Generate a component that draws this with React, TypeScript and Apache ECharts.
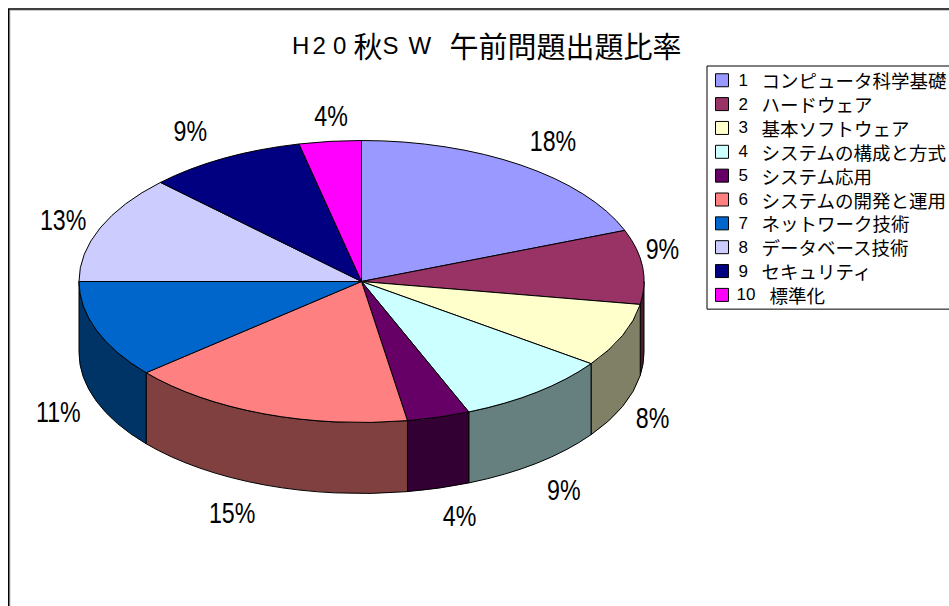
import React, { useEffect, useRef } from "react";
import * as echarts from "echarts";

const TITLE_RICH = "{l|H}{l|2}{l|0}{k|秋}{m|S}{w|W}{k|午前問題出題比率}";
const CATEGORIES = [
  "コンピュータ科学基礎",
  "ハードウェア",
  "基本ソフトウェア",
  "システムの構成と方式",
  "システム応用",
  "システムの開発と運用",
  "ネットワーク技術",
  "データベース技術",
  "セキュリティ",
  "標準化",
];
// Share of the ellipse each slice takes as drawn in the picture (3D view included).
const DRAWN_SHARES = [19.1, 8.5, 7.3, 8.9, 3.6, 16.4, 11.2, 12.4, 9.05, 3.55];
// Percentages as printed beside the slices.
const PRINTED_PERCENT = [18, 9, 8, 9, 4, 15, 11, 13, 9, 4];
const TOP_COLORS = ["#9999FF", "#993366", "#FFFFCC", "#CCFFFF", "#660066", "#FF8080", "#0066CC", "#CCCCFF", "#000080", "#FF00FF"];
const SIDE_COLORS = ["#4D4D80", "#4D1A33", "#808066", "#668080", "#330033", "#804040", "#003366", "#666680", "#000040", "#800080"];

const CX = 361.5, CY = 281.5, RX = 282.5, RY = 141, DEPTH = 71;
const LABEL_OFFSETS = [[32, -24], [20, -18], [30, 12], [27, 27], [21, 28], [-32, 28], [-38, 11], [-37, -8], [-34, -27], [1, -25]];
const TOTAL = DRAWN_SHARES.reduce((a, b) => a + b, 0);
const RIM = (deg: number, down = 0) => {
  const t = (deg * Math.PI) / 180;
  return [CX + RX * Math.sin(t), CY - RY * Math.cos(t) + down];
};
const LATIN = "'Liberation Sans', sans-serif";
const JP = "'Noto Sans CJK JP', sans-serif";

function sliceRender(index: number) {
  return (_params: any, api: any) => {
    const share = api.value(0);
    const before = DRAWN_SHARES.slice(0, index).reduce((a, b) => a + b, 0);
    const a0 = (before / TOTAL) * 360;
    const a1 = ((before + share) / TOTAL) * 360;
    const [x0, y0] = RIM(a0);
    const [x1, y1] = RIM(a1);
    const large = a1 - a0 > 180 ? 1 : 0;
    const children: any[] = [];
    const s0 = Math.max(a0, 90), s1 = Math.min(a1, 270);
    if (s1 > s0) {
      const [p0x, p0y] = RIM(s0);
      const [p1x, p1y] = RIM(s1);
      const side = `M ${p0x} ${p0y} A ${RX} ${RY} 0 0 1 ${p1x} ${p1y} L ${p1x} ${p1y + DEPTH} A ${RX} ${RY} 0 0 0 ${p0x} ${p0y + DEPTH} Z`;
      children.push({
        type: "path",
        shape: { pathData: side },
        style: { fill: SIDE_COLORS[index], stroke: "#000", lineWidth: 1 },
      });
    }
    children.push({
      type: "path",
      shape: { pathData: `M ${CX} ${CY} L ${x0} ${y0} A ${RX} ${RY} 0 ${large} 1 ${x1} ${y1} Z` },
      style: { fill: TOP_COLORS[index], stroke: "#000", lineWidth: 1 },
    });
    const mid = (a0 + a1) / 2;
    const front = Math.cos((mid * Math.PI) / 180) < 0;
    const [lx, ly] = RIM(mid, front ? DEPTH : 0);
    children.push({
      type: "text",
      x: lx + LABEL_OFFSETS[index][0],
      y: ly + LABEL_OFFSETS[index][1],
      scaleX: 0.8,
      style: {
        text: `${PRINTED_PERCENT[index]}%`,
        x: 0,
        y: 0,
        align: "center",
        verticalAlign: "middle",
        fontFamily: LATIN,
        fontSize: 29,
        fill: "#000",
      },
    });
    return { type: "group", children };
  };
}

export default function App() {
  const ref = useRef<HTMLDivElement>(null);
  useEffect(() => {
    document.body.style.margin = "0";
    const chart = echarts.init(ref.current!, null, { renderer: "svg" });
    const names = CATEGORIES.map((c, i) => `${i + 1}:${c}`);
    const latinTitle = { fontFamily: LATIN, fontSize: 24, color: "#000", fontWeight: "normal", lineHeight: 32 };
    chart.setOption({
      animation: false,
      backgroundColor: "#fff",
      title: {
        text: TITLE_RICH,
        left: 292,
        top: 29,
        padding: 0,
        textStyle: {
          rich: {
            l: { ...latinTitle, width: 20.5 },
            m: { ...latinTitle, width: 26 },
            w: { ...latinTitle, width: 41 },
            k: { fontFamily: JP, fontSize: 29, color: "#000", fontWeight: "normal", lineHeight: 32 },
          },
        },
      },
      legend: {
        orient: "vertical",
        left: 707,
        top: 66,
        width: 300,
        height: 260,
        padding: [5, 30, 5, 8],
        borderColor: "#000",
        borderWidth: 1,
        icon: "rect",
        itemWidth: 13,
        itemHeight: 13,
        itemGap: 5.35,
        selectedMode: false,
        itemStyle: { borderColor: "#000", borderWidth: 1 },
        data: names,
        formatter: (name: string) => {
          const [n, t] = name.split(":");
          return `{${n === "10" ? "w" : "n"}|${n}}{t|${t}}`;
        },
        textStyle: {
          rich: {
            n: { width: 23, padding: [0, 0, 0, 5], fontFamily: LATIN, fontSize: 17, lineHeight: 18, color: "#000" },
            w: { width: 33, padding: [0, 0, 0, 3], fontFamily: LATIN, fontSize: 17, lineHeight: 18, color: "#000" },
            t: { fontFamily: JP, fontSize: 18.5, lineHeight: 18, color: "#000" },
          },
        },
      },
      graphic: [
        { type: "rect", silent: true, shape: { x: 10, y: 10.5, width: 1200, height: 1200 }, style: { fill: "transparent", stroke: "#ccc", lineWidth: 1 } },
        { type: "rect", silent: true, shape: { x: 8.75, y: 9, width: 1200, height: 1200 }, style: { fill: "transparent", stroke: "#000", lineWidth: 1.5 } },
      ],
      series: DRAWN_SHARES.map((s, i) => ({
        type: "custom",
        name: names[i],
        coordinateSystem: "none",
        silent: true,
        itemStyle: { color: TOP_COLORS[i] },
        renderItem: sliceRender(i),
        data: [s],
      })),
    });
    return () => chart.dispose();
  }, []);
  return <div ref={ref} style={{ width: 949, height: 606 }} />;
}
